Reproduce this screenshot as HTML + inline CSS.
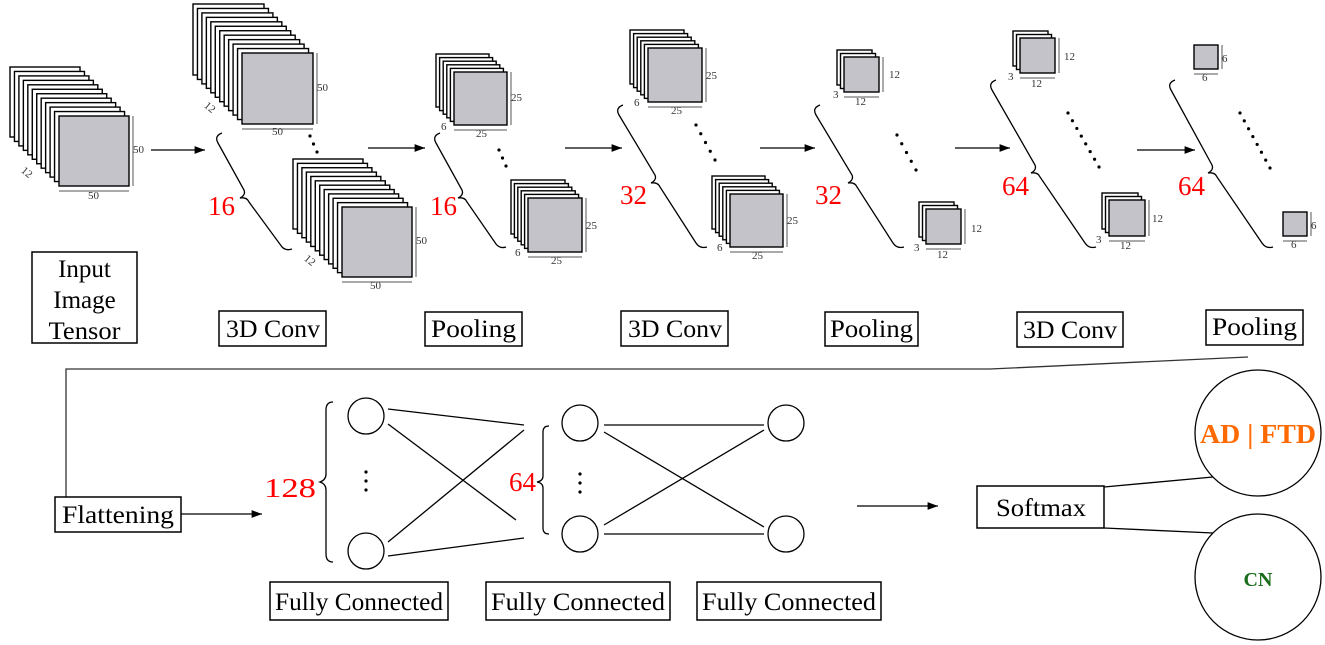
<!DOCTYPE html>
<html><head><meta charset="utf-8"><style>
html,body{margin:0;padding:0;background:#fff;}
svg{display:block;font-family:"Liberation Serif",serif;}
.b{fill:none;stroke:#000;stroke-width:1.5}
.lb{font-size:25px;fill:#000}
.r{fill:#f00;font-size:27px}
.d{font-size:11px;fill:#333}
</style></head><body>
<svg id="s" width="1325" height="645" viewBox="0 0 1325 645" xmlns="http://www.w3.org/2000/svg">
<defs><marker id="a" markerWidth="8" markerHeight="6" refX="8" refY="3" orient="auto"><path d="M0,0 L8,3 L0,6 Z" fill="#000"/></marker></defs>
<g id="stk"></g>
<g stroke="#000" stroke-width="1.3" marker-end="url(#a)">
<line x1="151" y1="150" x2="205" y2="150"/><line x1="368" y1="148" x2="425" y2="148"/>
<line x1="565" y1="148" x2="622" y2="148"/><line x1="760" y1="148" x2="815" y2="148"/>
<line x1="955" y1="148" x2="1010" y2="148"/><line x1="1137" y1="150" x2="1195" y2="150"/>
<line x1="181" y1="514" x2="262" y2="514"/><line x1="857" y1="506" x2="938" y2="506"/>
</g>
<g fill="none" stroke="#000" stroke-width="1.3">
<path d="M222,133 Q214,136 218,143 L244,190 Q246,195 240,198 Q247,197 249,202 L282,247 Q286,251 292,249"/>
<path d="M440,133 Q432,136 436,143 L462,190 Q464,195 458,198 Q465,197 467,202 L496,244 Q500,249 506,247"/>
<path d="M623,105 Q615,108 619,115 L655,175 Q657,180 651,183 Q658,182 660,187 L696,243 Q700,249 707,247"/>
<path d="M820,105 Q812,108 816,115 L852,175 Q854,180 848,183 Q855,182 857,187 L893,243 Q897,249 904,247"/>
<path d="M996,80 Q988,83 992,90 L1035,165 Q1037,170 1031,173 Q1038,172 1040,177 L1085,243 Q1089,249 1096,247"/>
<path d="M1175,80 Q1167,83 1171,90 L1212,165 Q1214,170 1208,173 Q1215,172 1217,177 L1262,243 Q1266,249 1273,247"/>
<path d="M333,402 Q326,402 326,410 L326,474 Q326,480 320,482 Q326,484 326,490 L326,554 Q326,562 333,562"/>
<path d="M549,426 Q543,426 543,432 L543,476 Q543,481 537,482 Q543,483 543,488 L543,528 Q543,534 549,534"/>
</g>
<g id="dots" fill="#000"></g>
<text class="r" x="208" y="215">16</text><text class="r" x="430" y="215">16</text>
<text class="r" x="620" y="204">32</text><text class="r" x="815" y="204">32</text>
<text class="r" x="1002" y="195">64</text><text class="r" x="1178" y="195">64</text>
<text class="r" x="264" y="497" textLength="52" lengthAdjust="spacingAndGlyphs">128</text><text class="r" x="509" y="491">64</text>
<g class="d">
<text x="133" y="153">50</text><text x="88" y="199">50</text><text x="22" y="175" transform="rotate(40 26 171)">12</text>
<text x="317" y="91">50</text><text x="272" y="135">50</text><text x="205" y="110" transform="rotate(40 209 106)">12</text>
<text x="416" y="244">50</text><text x="370" y="289">50</text><text x="305" y="263" transform="rotate(40 309 259)">12</text>
<text x="511" y="101">25</text><text x="476" y="137">25</text><text x="441" y="130">6</text>
<text x="586" y="229">25</text><text x="551" y="264">25</text><text x="515" y="256">6</text>
<text x="706" y="79">25</text><text x="671" y="114">25</text><text x="634" y="106">6</text>
<text x="787" y="224">25</text><text x="752" y="259">25</text><text x="717" y="251">6</text>
<text x="889" y="78">12</text><text x="855" y="105">12</text><text x="833" y="98">3</text>
<text x="971" y="232">12</text><text x="937" y="258">12</text><text x="914" y="251">3</text>
<text x="1064" y="60">12</text><text x="1031" y="87">12</text><text x="1008" y="80">3</text>
<text x="1152" y="222">12</text><text x="1120" y="249">12</text><text x="1096" y="243">3</text>
<text x="1222" y="62">6</text><text x="1202" y="81">6</text>
<text x="1311" y="229">6</text><text x="1291" y="248">6</text>
</g>
<g id="dims" stroke="#555" stroke-width="1" fill="none"></g>
<rect class="b" x="32" y="252" width="105" height="91"/>
<text class="lb" x="84.5" y="277" text-anchor="middle">Input</text>
<text class="lb" x="84.5" y="308" text-anchor="middle">Image</text>
<text class="lb" x="84.5" y="339" text-anchor="middle" textLength="72" lengthAdjust="spacingAndGlyphs">Tensor</text>
<rect class="b" x="219" y="311" width="107" height="35"/><text class="lb" x="226" y="337" textLength="94" lengthAdjust="spacingAndGlyphs">3D Conv</text>
<rect class="b" x="425" y="312" width="97" height="34"/><text class="lb" x="431" y="337" textLength="85" lengthAdjust="spacingAndGlyphs">Pooling</text>
<rect class="b" x="621" y="311" width="107" height="35"/><text class="lb" x="628" y="337" textLength="94" lengthAdjust="spacingAndGlyphs">3D Conv</text>
<rect class="b" x="825" y="312" width="93" height="34"/><text class="lb" x="830" y="337" textLength="83" lengthAdjust="spacingAndGlyphs">Pooling</text>
<rect class="b" x="1017" y="312" width="106" height="35"/><text class="lb" x="1023" y="338" textLength="94" lengthAdjust="spacingAndGlyphs">3D Conv</text>
<rect class="b" x="1206" y="310" width="97" height="35"/><text class="lb" x="1212" y="335" textLength="85" lengthAdjust="spacingAndGlyphs">Pooling</text>
<polyline fill="none" stroke="#333" stroke-width="1.3" points="1248,357 990,369 66,369 66,497"/>
<rect class="b" x="55" y="497" width="126" height="35"/><text class="lb" x="62" y="523" textLength="112" lengthAdjust="spacingAndGlyphs">Flattening</text>
<g fill="none" stroke="#000" stroke-width="1.3">
<circle cx="366" cy="416" r="18"/><circle cx="366" cy="551" r="18"/>
<circle cx="580" cy="423" r="18"/><circle cx="580" cy="534" r="18"/>
<circle cx="786" cy="423" r="18"/><circle cx="786" cy="534" r="18"/>
<line x1="388" y1="409" x2="524" y2="425"/><line x1="388" y1="424" x2="516" y2="520"/>
<line x1="388" y1="542" x2="524" y2="430"/><line x1="388" y1="556" x2="524" y2="538"/>
<line x1="604" y1="425" x2="764" y2="425"/><line x1="604" y1="432" x2="764" y2="527"/>
<line x1="604" y1="525" x2="764" y2="430"/><line x1="604" y1="534" x2="764" y2="534"/>
<circle cx="1258" cy="433" r="63"/><circle cx="1258" cy="577" r="63"/>
<line x1="1104" y1="487" x2="1213" y2="477"/><line x1="1104" y1="528" x2="1213" y2="533"/>
</g>
<g fill="#000"><circle cx="366" cy="472" r="1.6"/><circle cx="366" cy="481" r="1.6"/><circle cx="366" cy="490" r="1.6"/>
<circle cx="580" cy="474" r="1.6"/><circle cx="580" cy="483" r="1.6"/><circle cx="580" cy="492" r="1.6"/></g>
<rect class="b" x="270" y="582" width="178" height="38"/><text class="lb" x="275" y="610" textLength="168" lengthAdjust="spacingAndGlyphs">Fully Connected</text>
<rect class="b" x="486" y="582" width="184" height="38"/><text class="lb" x="491" y="610" textLength="174" lengthAdjust="spacingAndGlyphs">Fully Connected</text>
<rect class="b" x="697" y="582" width="184" height="38"/><text class="lb" x="702" y="610" textLength="174" lengthAdjust="spacingAndGlyphs">Fully Connected</text>
<rect class="b" x="977" y="486" width="127" height="42"/><text class="lb" x="996" y="516" textLength="90" lengthAdjust="spacingAndGlyphs">Softmax</text>
<text x="1258" y="443" text-anchor="middle" font-size="27" font-weight="bold" fill="#ff6a00" textLength="116" lengthAdjust="spacingAndGlyphs">AD | FTD</text>
<text x="1258" y="586" text-anchor="middle" font-size="20" font-weight="bold" fill="#1a6b1a">CN</text>
</svg>
<script>
(function(){
var ns="http://www.w3.org/2000/svg",g=document.getElementById("stk"),dm=document.getElementById("dims"),dt=document.getElementById("dots");
function el(p,t,a){var e=document.createElementNS(ns,t);for(var k in a)e.setAttribute(k,a[k]);p.appendChild(e);return e;}
function stack(fx,fy,s,bx,by,n){
 for(var i=0;i<n;i++){var t=n>1?i/(n-1):1;var x=bx+(fx-bx)*t,y=by+(fy-by)*t;
  el(g,"rect",{x:x,y:y,width:s,height:s,fill:i==n-1?"#c3c3c9":"#fff",stroke:"#000","stroke-width":1.4});}
 el(dm,"line",{x1:fx+s+4,y1:fy,x2:fx+s+4,y2:fy+s});
 el(dm,"line",{x1:fx,y1:fy+s+5,x2:fx+s,y2:fy+s+5});
}
stack(59,116,70,10,67,12);stack(242,53,71,193,4,12);stack(342,207,70,293,159,12);
stack(454,72,53,436,54,6);stack(528,198,54,511,180,6);
stack(648,48,54,630,30,6);stack(730,194,53,712,176,6);
stack(844,57,35,837,50,3);stack(926,209,35,919,202,3);
stack(1020,38,35,1013,31,3);stack(1109,200,36,1102,193,3);
stack(1194,45,24,1194,45,1);stack(1283,212,24,1283,212,1);
function dots(x1,y1,x2,y2,n){for(var i=0;i<n;i++){var t=i/(n-1);el(dt,"circle",{cx:x1+(x2-x1)*t,cy:y1+(y2-y1)*t,r:1.6});}}
dots(310,136,317,152,3);dots(499,150,506,166,3);dots(696,125,715,160,5);dots(897,135,916,170,5);dots(1068,113,1099,167,8);dots(1240,113,1270,168,8);
})();
</script>
</body></html>
